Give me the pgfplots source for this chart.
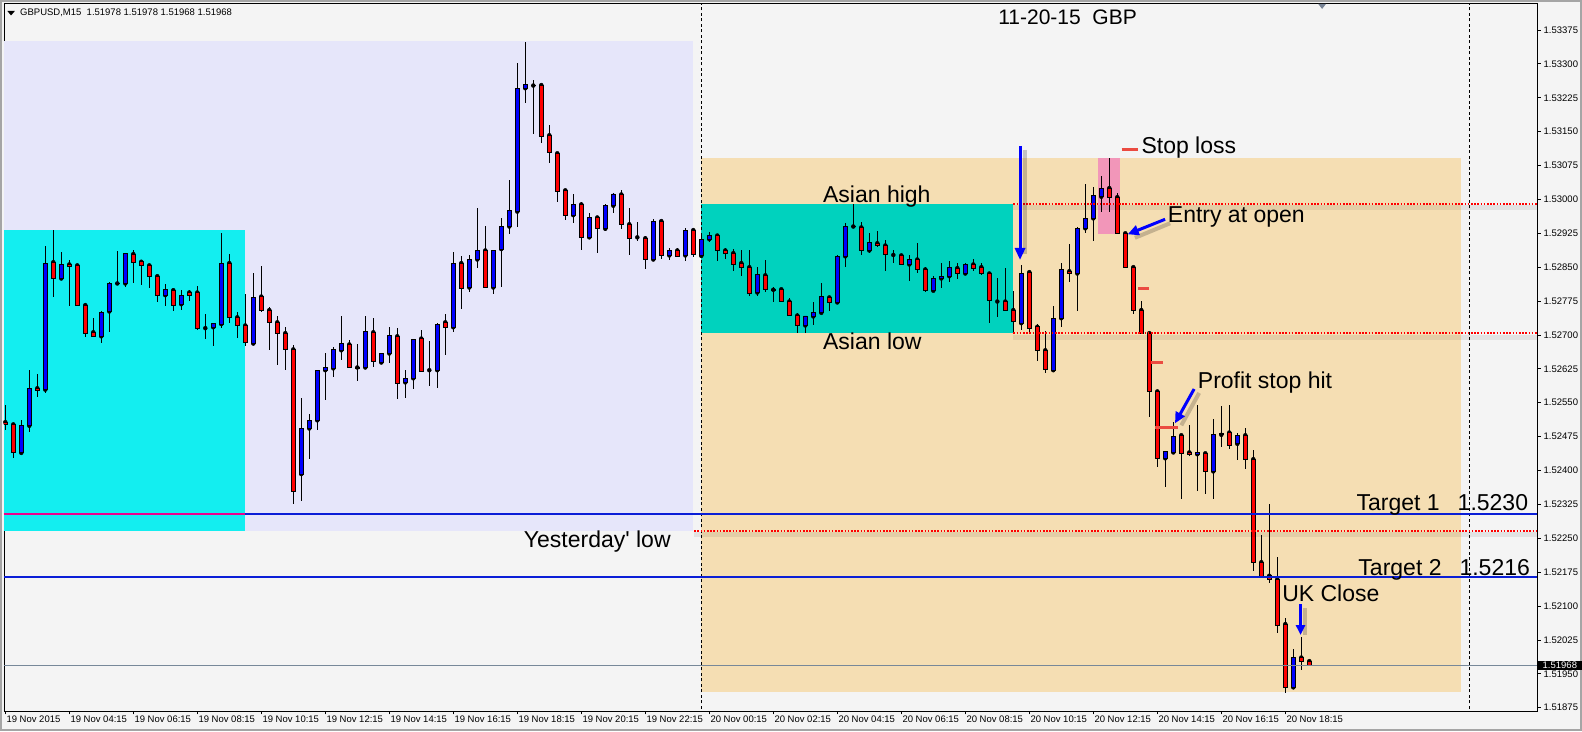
\documentclass[border=0pt]{standalone}
\usepackage{pgfplots}
\pgfplotsset{compat=1.18}
\usepackage{pgfplotstable}
\usepackage{fontspec}
\setmainfont{Liberation Sans}[Ligatures=TeXOff]
\usetikzlibrary{arrows.meta}

\definecolor{chartbg}{RGB}{244,244,244}
\definecolor{framegray}{RGB}{165,165,165}
\definecolor{prevday}{RGB}{230,230,250}
\definecolor{asia19}{RGB}{19,238,240}
\definecolor{day20}{RGB}{245,222,179}
\definecolor{asia20}{RGB}{0,210,190}
\definecolor{slzone}{RGB}{242,150,185}
\definecolor{bull}{RGB}{0,0,255}
\definecolor{bear}{RGB}{255,0,0}
\definecolor{target}{RGB}{10,30,215}
\definecolor{bidline}{RGB}{119,136,153}
\definecolor{stopmark}{RGB}{235,75,65}
\definecolor{shiftmark}{RGB}{120,132,150}

\newcommand{\tickfont}{\fontsize{9.5}{11}\selectfont}
\newcommand{\notefont}{\fontsize{23}{27}\selectfont}

% GBPUSD M15 bars, 19 Nov 2015 02:15 -> 20 Nov 2015 19:00 (bar index, open, high, low, close)
\pgfplotstableread{
i o h l c
0 1.52507 1.52545 1.52490 1.52502
1 1.52502 1.52503 1.52427 1.52440
2 1.52439 1.52512 1.52437 1.52500
3 1.52499 1.52622 1.52486 1.52582
4 1.52582 1.52614 1.52563 1.52577
5 1.52579 1.52897 1.52572 1.52859
6 1.52861 1.52932 1.52785 1.52825
7 1.52825 1.52884 1.52823 1.52856
8 1.52856 1.52866 1.52763 1.52852
9 1.52854 1.52855 1.52763 1.52765
10 1.52766 1.52770 1.52696 1.52704
11 1.52706 1.52738 1.52695 1.52696
12 1.52697 1.52752 1.52683 1.52750
13 1.52752 1.52817 1.52707 1.52814
14 1.52814 1.52886 1.52812 1.52815
15 1.52814 1.52882 1.52807 1.52881
16 1.52879 1.52888 1.52814 1.52861
17 1.52862 1.52867 1.52811 1.52854
18 1.52854 1.52855 1.52805 1.52829
19 1.52830 1.52831 1.52774 1.52788
20 1.52788 1.52813 1.52765 1.52801
21 1.52799 1.52800 1.52754 1.52765
22 1.52768 1.52800 1.52755 1.52788
23 1.52794 1.52800 1.52776 1.52788
24 1.52794 1.52808 1.52712 1.52715
25 1.52715 1.52746 1.52692 1.52715
26 1.52717 1.52727 1.52676 1.52726
27 1.52724 1.52925 1.52715 1.52859
28 1.52859 1.52879 1.52727 1.52739
29 1.52739 1.52750 1.52694 1.52721
30 1.52721 1.52790 1.52676 1.52684
31 1.52681 1.52837 1.52680 1.52783
32 1.52785 1.52853 1.52751 1.52755
33 1.52755 1.52761 1.52667 1.52728
34 1.52728 1.52741 1.52634 1.52704
35 1.52704 1.52718 1.52623 1.52668
36 1.52668 1.52678 1.52325 1.52354
37 1.52392 1.52560 1.52333 1.52493
38 1.52493 1.52525 1.52426 1.52511
39 1.52511 1.52623 1.52490 1.52622
40 1.52622 1.52660 1.52557 1.52628
41 1.52626 1.52674 1.52608 1.52668
42 1.52666 1.52742 1.52645 1.52681
43 1.52679 1.52689 1.52627 1.52628
44 1.52628 1.52680 1.52599 1.52626
45 1.52628 1.52742 1.52626 1.52708
46 1.52706 1.52738 1.52628 1.52641
47 1.52639 1.52661 1.52637 1.52659
48 1.52659 1.52717 1.52639 1.52699
49 1.52697 1.52715 1.52558 1.52593
50 1.52595 1.52622 1.52561 1.52604
51 1.52604 1.52692 1.52580 1.52690
52 1.52692 1.52711 1.52617 1.52619
53 1.52622 1.52686 1.52586 1.52622
54 1.52622 1.52726 1.52583 1.52723
55 1.52728 1.52746 1.52656 1.52717
56 1.52717 1.52883 1.52707 1.52859
57 1.52859 1.52874 1.52758 1.52803
58 1.52805 1.52876 1.52794 1.52867
59 1.52867 1.52980 1.52849 1.52887
60 1.52887 1.52941 1.52804 1.52805
61 1.52805 1.52888 1.52791 1.52887
62 1.52890 1.52958 1.52807 1.52940
63 1.52940 1.53043 1.52923 1.52976
64 1.52973 1.53301 1.52938 1.53246
65 1.53246 1.53349 1.53213 1.53255
66 1.53252 1.53264 1.53144 1.53251
67 1.53253 1.53253 1.53124 1.53140
68 1.53142 1.53164 1.53081 1.53104
69 1.53102 1.53102 1.52994 1.53017
70 1.53020 1.53021 1.52954 1.52965
71 1.52965 1.53012 1.52947 1.52989
72 1.52989 1.52995 1.52887 1.52916
73 1.52916 1.52969 1.52915 1.52960
74 1.52960 1.52961 1.52882 1.52935
75 1.52935 1.52990 1.52929 1.52987
76 1.52986 1.53014 1.52969 1.53012
77 1.53011 1.53021 1.52935 1.52945
78 1.52945 1.52980 1.52876 1.52913
79 1.52916 1.52949 1.52907 1.52916
80 1.52914 1.52918 1.52845 1.52867
81 1.52867 1.52956 1.52866 1.52952
82 1.52952 1.52953 1.52867 1.52876
83 1.52876 1.52892 1.52866 1.52887
84 1.52887 1.52892 1.52873 1.52874
85 1.52876 1.52936 1.52864 1.52932
86 1.52932 1.52934 1.52873 1.52879
87 1.52875 1.52918 1.52873 1.52912
88 1.52912 1.52927 1.52906 1.52920
89 1.52920 1.52921 1.52864 1.52887
90 1.52887 1.52892 1.52867 1.52880
91 1.52881 1.52890 1.52842 1.52856
92 1.52859 1.52888 1.52831 1.52850
93 1.52850 1.52888 1.52786 1.52791
94 1.52794 1.52850 1.52787 1.52834
95 1.52832 1.52867 1.52794 1.52800
96 1.52800 1.52806 1.52774 1.52799
97 1.52801 1.52802 1.52772 1.52774
98 1.52774 1.52781 1.52742 1.52743
99 1.52743 1.52748 1.52704 1.52721
100 1.52721 1.52743 1.52705 1.52742
101 1.52741 1.52772 1.52721 1.52749
102 1.52749 1.52814 1.52747 1.52785
103 1.52783 1.52786 1.52754 1.52772
104 1.52772 1.52876 1.52771 1.52874
105 1.52874 1.52947 1.52851 1.52940
106 1.52940 1.52990 1.52936 1.52941
107 1.52938 1.52951 1.52876 1.52887
108 1.52887 1.52925 1.52882 1.52904
109 1.52903 1.52930 1.52895 1.52897
110 1.52898 1.52910 1.52842 1.52878
111 1.52877 1.52888 1.52859 1.52877
112 1.52876 1.52877 1.52854 1.52856
113 1.52856 1.52876 1.52820 1.52867
114 1.52867 1.52903 1.52836 1.52845
115 1.52845 1.52851 1.52794 1.52798
116 1.52798 1.52831 1.52797 1.52825
117 1.52825 1.52859 1.52805 1.52830
118 1.52830 1.52863 1.52818 1.52850
119 1.52848 1.52860 1.52823 1.52836
120 1.52836 1.52860 1.52833 1.52856
121 1.52856 1.52869 1.52842 1.52848
122 1.52850 1.52859 1.52832 1.52836
123 1.52836 1.52837 1.52727 1.52777
124 1.52774 1.52825 1.52740 1.52774
125 1.52774 1.52848 1.52754 1.52755
126 1.52755 1.52797 1.52706 1.52729
127 1.52726 1.52855 1.52711 1.52836
128 1.52839 1.52840 1.52704 1.52714
129 1.52718 1.52724 1.52643 1.52666
130 1.52666 1.52709 1.52615 1.52624
131 1.52622 1.52763 1.52621 1.52737
132 1.52737 1.52859 1.52718 1.52844
133 1.52841 1.52901 1.52818 1.52836
134 1.52836 1.52940 1.52754 1.52936
135 1.52936 1.53034 1.52925 1.52958
136 1.52958 1.53027 1.52907 1.53009
137 1.53006 1.53052 1.52973 1.53025
138 1.53025 1.53091 1.52973 1.53005
139 1.53005 1.53014 1.52923 1.52925
140 1.52925 1.52927 1.52849 1.52850
141 1.52850 1.52850 1.52746 1.52755
142 1.52755 1.52775 1.52703 1.52704
143 1.52704 1.52707 1.52518 1.52575
144 1.52575 1.52578 1.52408 1.52427
145 1.52427 1.52444 1.52364 1.52443
146 1.52440 1.52507 1.52439 1.52476
147 1.52478 1.52479 1.52336 1.52438
148 1.52440 1.52501 1.52433 1.52436
149 1.52436 1.52545 1.52355 1.52440
150 1.52438 1.52441 1.52349 1.52398
151 1.52398 1.52514 1.52336 1.52479
152 1.52479 1.52543 1.52453 1.52482
153 1.52484 1.52545 1.52448 1.52456
154 1.52459 1.52484 1.52423 1.52478
155 1.52478 1.52493 1.52404 1.52425
156 1.52425 1.52445 1.52178 1.52197
157 1.52197 1.52257 1.52164 1.52166
158 1.52167 1.52326 1.52150 1.52159
159 1.52159 1.52208 1.52040 1.52058
160 1.52060 1.52074 1.51907 1.51920
161 1.51920 1.52005 1.51916 1.51986
162 1.51986 1.52032 1.51958 1.51978
163 1.51978 1.51978 1.51968 1.51968
}\candles

\pgfplotsset{
  chartframe/.style={
    at={(4pt,20pt)}, anchor=south west,
    scale only axis, width=1533pt, height=707pt,
    xmin=-0.1625, xmax=191.46,
  },
}

\begin{document}
\begin{tikzpicture}
% terminal window background and frame
\fill[chartbg] (0,0) rectangle (1582pt,731pt);
\draw[framegray, line width=2pt] (1pt,1pt) rectangle (1581pt,730pt);

% ---------- layer 1: zones, separators, wicks, price and time scales
\begin{axis}[
  chartframe,
  ymin=1.518677, ymax=1.534325,
  axis line style={black, line width=1pt},
  tick align=outside, major tick length=3.5pt,
  tick style={black, line width=0.8pt},
  xtick pos=left, ytick pos=right,
  xticklabel pos=left, yticklabel pos=right,
  scaled y ticks=false,
  xtick={0,8,...,160},
  xticklabels={19 Nov 2015, 19 Nov 04:15, 19 Nov 06:15, 19 Nov 08:15, 19 Nov 10:15,
    19 Nov 12:15, 19 Nov 14:15, 19 Nov 16:15, 19 Nov 18:15, 19 Nov 20:15, 19 Nov 22:15,
    20 Nov 00:15, 20 Nov 02:15, 20 Nov 04:15, 20 Nov 06:15, 20 Nov 08:15, 20 Nov 10:15,
    20 Nov 12:15, 20 Nov 14:15, 20 Nov 16:15, 20 Nov 18:15},
  ytick={1.51875,1.5195,1.52025,1.521,1.52175,1.5225,1.52325,1.524,1.52475,1.5255,1.52625,
    1.527,1.52775,1.5285,1.52925,1.53,1.53075,1.5315,1.53225,1.533,1.53375},
  yticklabels={1.51875,1.51950,1.52025,1.52100,1.52175,1.52250,1.52325,1.52400,1.52475,
    1.52550,1.52625,1.52700,1.52775,1.52850,1.52925,1.53000,1.53075,1.53150,1.53225,
    1.53300,1.53375},
  xticklabel style={font=\tickfont, anchor=north west, inner sep=0pt, xshift=1pt, yshift=-1.5pt},
  yticklabel style={font=\tickfont, anchor=west, inner sep=0pt, xshift=3pt},
]
% previous day range and its Asian session
\addplot[draw=none, fill=prevday] coordinates {(-9,1.52267) (86,1.52267) (86,1.53350) (-9,1.53350)} -- cycle;
\addplot[draw=none, fill=asia19] coordinates {(-9,1.52267) (30,1.52267) (30,1.52932) (-9,1.52932)} -- cycle;
% current day and its Asian session
\addplot[draw=none, fill=day20] coordinates {(87,1.51910) (182,1.51910) (182,1.53091) (87,1.53091)} -- cycle;
\addplot[draw=none, fill=asia20] coordinates {(87,1.52705) (126,1.52705) (126,1.52990) (87,1.52990)} -- cycle;
% stop-loss zone
\addplot[draw=none, fill=slzone] coordinates {(136.6,1.52924) (139.3,1.52924) (139.3,1.53091) (136.6,1.53091)} -- cycle;
% day separators
\addplot[black, line width=0.9pt, dash pattern=on 3pt off 2.5pt] coordinates {(87,1.5186) (87,1.5344)};
\addplot[black, line width=0.9pt, dash pattern=on 3pt off 2.5pt] coordinates {(183,1.5186) (183,1.5344)};
% wicks
\addplot[only marks, mark=none,
  error bars/.cd, y dir=both, y explicit, error mark=none,
  error bar style={draw=black, line width=1pt}]
  table[x=i, y=o, y error plus expr={\thisrow{h}-\thisrow{o}},
        y error minus expr={\thisrow{o}-\thisrow{l}}] {\candles};
\end{axis}

% ---------- layer 2: candle bodies (prices measured from 1.518)
\begin{axis}[
  chartframe, hide axis,
  ymin=0.000677, ymax=0.016325,
  ybar stacked, bar width=3.4pt,
]
\addplot[draw=none, fill=none] table[x=i, y expr={min(\thisrow{o},\thisrow{c})-1.518}] {\candles};
\addplot[fill=bear, draw=black, line width=0.9pt] table[x=i, y expr={max(\thisrow{o}-\thisrow{c},0)}] {\candles};
\addplot[fill=bull, draw=black, line width=0.9pt] table[x=i, y expr={max(\thisrow{c}-\thisrow{o},0)}] {\candles};
\end{axis}

% ---------- layer 3: levels, stops, arrows and notes
\begin{axis}[
  chartframe, hide axis,
  ymin=1.518677, ymax=1.534325,
]
% soft shadows under the dotted levels
\addplot[black, opacity=0.07, line width=5pt] coordinates {(126,1.529812) (191.46,1.529812)};
\addplot[black, opacity=0.07, line width=5pt] coordinates {(126,1.526952) (191.46,1.526952)};
\addplot[black, opacity=0.07, line width=5pt] coordinates {(86.1,1.522582) (191.46,1.522582)};
% Asian high / low and yesterday's low
\addplot[red, line width=2pt, dash pattern=on 1.6pt off 1.6pt] coordinates {(126,1.52990) (191.46,1.52990)};
\addplot[red, line width=2pt, dash pattern=on 1.6pt off 1.6pt] coordinates {(126,1.52704) (191.46,1.52704)};
\addplot[red, line width=2pt, dash pattern=on 1.6pt off 1.6pt] coordinates {(86.1,1.52267) (191.46,1.52267)};
% targets
\addplot[target, line width=2pt] coordinates {(-0.2,1.52304) (191.46,1.52304)};
\addplot[magenta, line width=2pt] coordinates {(-0.2,1.52304) (30,1.52304)};
\addplot[target, line width=2pt] coordinates {(-0.2,1.52165) (191.46,1.52165)};
% bid
\addplot[bidline, line width=1pt] coordinates {(-0.2,1.51968) (191.46,1.51968)};
% stop-loss and trailing stop marks
\addplot[stopmark, line width=3pt] coordinates {(139.55,1.53111) (141.6,1.53111)};
\addplot[stopmark, line width=3pt] coordinates {(141.6,1.52803) (143.0,1.52803)};
\addplot[stopmark, line width=3pt] coordinates {(143.2,1.52639) (144.75,1.52639)};
\addplot[stopmark, line width=3pt] coordinates {(143.7,1.52496) (146.6,1.52496)};
% arrow shadows
\addplot[black, opacity=0.2, line width=4pt] coordinates {(127.47,1.531095) (127.47,1.528800)};
\addplot[black, opacity=0.2, line width=4pt] coordinates {(145.6,1.529472) (141.2,1.529150)};
\addplot[black, opacity=0.2, line width=4pt] coordinates {(149.23,1.525716) (147.0,1.525000)};
\addplot[black, opacity=0.2, line width=4pt] coordinates {(162.5,1.520950) (162.5,1.520350)};
% arrows
\addplot[bull, line width=3pt, -{Triangle[length=12pt,width=10pt]}] coordinates {(126.84,1.531183) (126.84,1.528659)};
\addplot[bull, line width=3pt, -{Triangle[length=11pt,width=10pt]}] coordinates {(144.97,1.529560) (140.3,1.529228)};
\addplot[bull, line width=3pt, -{Triangle[length=11pt,width=10pt]}] coordinates {(148.6,1.525804) (146.21,1.525045)};
\addplot[bull, line width=3pt, -{Triangle[length=10pt,width=9pt]}] coordinates {(161.9,1.521038) (161.9,1.520359)};
% chart header and shift marker
\addplot[draw=none, fill=black] coordinates {(0.25,1.534171) (1.2,1.534171) (0.72,1.534071)} -- cycle;
\addplot[draw=none, fill=shiftmark] coordinates {(164.1,1.534330) (165.1,1.534330) (164.6,1.534215)} -- cycle;
\node[anchor=west, font=\tickfont, inner sep=0pt] at (axis cs:1.84,1.534133) {GBPUSD,M15\ \ 1.51978 1.51978 1.51968 1.51968};
% notes
\node[anchor=base west, font=\fontsize{21}{25}\selectfont, inner sep=0pt] at (axis cs:124.1,1.533861) {11-20-15\ \ GBP};
\node[anchor=base west, font=\notefont, inner sep=0pt] at (axis cs:102.2,1.529927) {Asian high};
\node[anchor=base west, font=\notefont, inner sep=0pt] at (axis cs:102.2,1.526683) {Asian low};
\node[anchor=base west, font=\notefont, inner sep=0pt] at (axis cs:142.0,1.531021) {Stop loss};
\node[anchor=base west, font=\notefont, inner sep=0pt] at (axis cs:145.3,1.529478) {Entry at open};
\node[anchor=base west, font=\notefont, inner sep=0pt] at (axis cs:149.05,1.525820) {Profit stop hit};
\node[anchor=base west, font=\notefont, inner sep=0pt] at (axis cs:64.8,1.522285) {Yesterday' low};
\node[anchor=base east, font=\notefont, inner sep=0pt] at (axis cs:190.37,1.523104) {Target 1\hspace{18pt}1.5230};
\node[anchor=base east, font=\notefont, inner sep=0pt] at (axis cs:190.6,1.521687) {Target 2\hspace{18pt}1.5216};
\node[anchor=base west, font=\notefont, inner sep=0pt] at (axis cs:159.6,1.521096) {UK Close};
\coordinate (bidtag) at (axis cs:191.46,1.51968);
\end{axis}

% bid price tag on the price scale
\node[fill=black, text=white, font=\tickfont, anchor=west, inner xsep=4.5pt, inner ysep=1.2pt, xshift=1pt] at (bidtag) {1.51968};
\end{tikzpicture}
\end{document}
